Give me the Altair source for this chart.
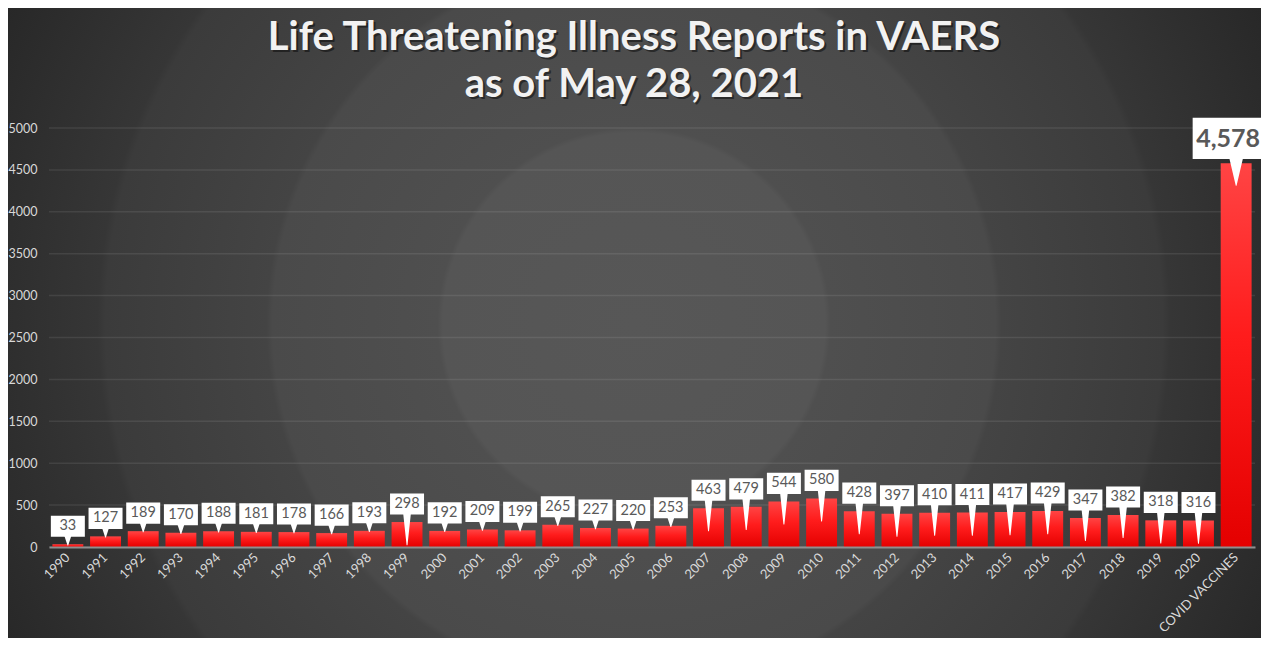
import altair as alt
import pandas as pd

categories = ["1990", "1991", "1992", "1993", "1994", "1995", "1996", "1997", "1998", "1999",
              "2000", "2001", "2002", "2003", "2004", "2005", "2006", "2007", "2008", "2009",
              "2010", "2011", "2012", "2013", "2014", "2015", "2016", "2017", "2018", "2019",
              "2020", "COVID VACCINES"]
values = [33, 127, 189, 170, 188, 181, 178, 166, 193, 298,
          192, 209, 199, 265, 227, 220, 253, 463, 479, 544,
          580, 428, 397, 410, 411, 417, 429, 347, 382, 318,
          316, 4578]
y_ticks = [0, 500, 1000, 1500, 2000, 2500, 3000, 3500, 4000, 4500, 5000]
title_lines = ["Life Threatening Illness Reports in VAERS", "as of May 28, 2021"]
highlight = "COVID VACCINES"

df = pd.DataFrame({"cat": categories, "v": values})
ticks_df = pd.DataFrame({"t": y_ticks})
one = pd.DataFrame({"k": [0]})

W, H = 1206, 419
FONT = "Lato"
LABEL_COLOR = "#d9d9d9"

yscale = alt.Scale(domain=[0, 5000], nice=False, zero=True)
xscale = alt.Scale(paddingInner=0.18, paddingOuter=0.09)

xaxis = alt.Axis(title="", labelAngle=-45, labelAlign="right", labelBaseline="middle",
                 labelFont=FONT, labelFontSize=13, labelColor=LABEL_COLOR, labelPadding=8,
                 ticks=False, domainColor="#8f8f8f", domainWidth=2, grid=False, zindex=1,
                 labelOverlap=False)
yaxis = alt.Axis(title="", values=y_ticks, format="d", domain=False, ticks=False, grid=False,
                 labelFont=FONT, labelFontSize=12.5, labelColor=LABEL_COLOR, labelPadding=12,
                 zindex=1)


def X():
    return alt.X("cat:N", sort=categories, scale=xscale, axis=xaxis)


def Y(field):
    return alt.Y(f"{field}:Q", scale=yscale, axis=yaxis)


# radial background
bg_grad = {
    "gradient": "radial", "x1": 0.5, "y1": 0.5, "x2": 0.5, "y2": 0.5, "r1": 0, "r2": 0.5,
    "stops": [
        {"offset": 0.0, "color": "#575757"},
        {"offset": 0.255, "color": "#555555"},
        {"offset": 0.262, "color": "#4f4f4f"},
        {"offset": 0.482, "color": "#4a4a4a"},
        {"offset": 0.490, "color": "#444444"},
        {"offset": 0.705, "color": "#3b3b3b"},
        {"offset": 0.715, "color": "#363636"},
        {"offset": 0.935, "color": "#282828"},
        {"offset": 1.0, "color": "#252525"},
    ],
}
background = alt.Chart(one).mark_rect(fill=bg_grad, strokeWidth=0).encode(
    x=alt.value(-165), x2=alt.value(1335), y=alt.value(-554), y2=alt.value(946)
)

grid = alt.Chart(ticks_df).mark_rule(color="#ffffff", opacity=0.085, strokeWidth=1.5).encode(
    y=Y("t")
)

bar_grad = {
    "gradient": "linear", "x1": 0, "y1": 0, "x2": 0, "y2": 1,
    "stops": [
        {"offset": 0.0, "color": "#ff4444"},
        {"offset": 0.45, "color": "#ff1c1c"},
        {"offset": 1.0, "color": "#e40000"},
    ],
}
bars = alt.Chart(df).mark_bar(color=bar_grad).encode(x=X(), y=Y("v"))

# callout pointers
pointers = alt.Chart(df).transform_calculate(
    yb="datum.v + 120",
    yt=f"datum.cat == '{highlight}' ? datum.v - 260 : (datum.v >= 290 ? datum.v - 270 : datum.v - 8)",
).transform_fold(["yb", "yt"], as_=["end", "yy"]).transform_calculate(
    w=f"datum.end == 'yb' ? (datum.cat == '{highlight}' ? 16 : 8) : 0"
).mark_trail(color="white", opacity=1).encode(
    x=X(), y=Y("yy"), size=alt.Size("w:Q", scale=None, legend=None),
    detail="cat:N", order=alt.Order("end:N")
)

box_path = "M-1,-0.62L1,-0.62L1,0.62L-1,0.62Z"
small = alt.Chart(df).transform_filter(f"datum.cat != '{highlight}'")
big = alt.Chart(df).transform_filter(f"datum.cat == '{highlight}'")

boxes = small.mark_point(shape=box_path, filled=True, fill="white", opacity=1,
                         strokeWidth=0, size=34 * 34, yOffset=-18).encode(x=X(), y=Y("v"))
box_text = small.mark_text(font=FONT, fontSize=14.5, color="#595959", dy=-18,
                           baseline="middle").encode(x=X(), y=Y("v"), text=alt.Text("v:Q", format=","))

big_box = big.mark_point(shape="M-1,-0.58L1,-0.58L1,0.58L-1,0.58Z", filled=True, fill="white",
                         opacity=1, strokeWidth=0, size=71 * 71, yOffset=-25,
                         xOffset=-8).encode(x=X(), y=Y("v"))
big_text = big.mark_text(font=FONT, fontSize=25, fontWeight="bold", color="#595959", dy=-24,
                         dx=-8, baseline="middle").encode(x=X(), y=Y("v"),
                                                          text=alt.Text("v:Q", format=","))

title_layers = []
for i, line in enumerate(title_lines):
    tdf = pd.DataFrame({"t": [line]})
    ypos = -78 if i == 0 else -31
    shadow = alt.Chart(tdf).mark_text(font=FONT, fontSize=40, fontWeight="bold", color="#000000",
                                      opacity=0.45, baseline="alphabetic", dx=2, dy=2).encode(
        x=alt.value(585), y=alt.value(ypos), text="t:N")
    txt = alt.Chart(tdf).mark_text(font=FONT, fontSize=40, fontWeight="bold", color="#f2f2f2",
                                   baseline="alphabetic").encode(
        x=alt.value(585), y=alt.value(ypos), text="t:N")
    title_layers += [shadow, txt]

chart = alt.layer(background, grid, bars, pointers, boxes, box_text, big_box, big_text,
                  *title_layers).properties(
    width=W, height=H,
    autosize=alt.AutoSizeParams(type="none"),
    padding={"left": 41, "top": 120, "right": 6, "bottom": 91},
    background="#262626",
).configure_view(strokeWidth=0)

chart.save("out.html", embed_options={"renderer": "svg", "actions": False})
